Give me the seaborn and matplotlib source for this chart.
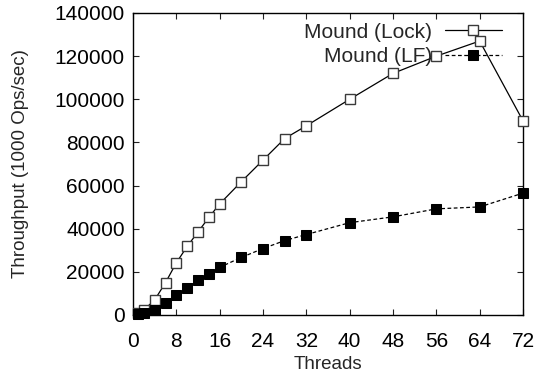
import matplotlib
matplotlib.use("Agg")
import matplotlib.pyplot as plt
import seaborn as sns
import pandas as pd

threads = [1, 2, 4, 6, 8, 10, 12, 14, 16, 20, 24, 28, 32, 40, 48, 56, 64, 72]
lock = [1000, 2300, 7000, 15000, 24200, 31800, 38500, 45200, 51500, 61800,
        71800, 81800, 87700, 100000, 112000, 120000, 127000, 90000]
lf = [500, 1100, 2300, 5400, 9200, 12700, 16000, 19200, 22100, 26700,
      30800, 34500, 37300, 42800, 45500, 49200, 50100, 56500]
xticks = [0, 8, 16, 24, 32, 40, 48, 56, 64, 72]
yticks = [0, 20000, 40000, 60000, 80000, 100000, 120000, 140000]

sns.set_theme(style="ticks")
plt.rcParams['font.family'] = ['Liberation Sans', 'DejaVu Sans']
plt.rcParams['font.size'] = 14

fig = plt.figure(figsize=(5.37, 3.79), dpi=100)
ax = fig.add_axes([133/537, 1-315/379, (523-133)/537, (315-13)/379])

df = pd.DataFrame({"Threads": threads, "Lock": lock, "LF": lf})

sns.lineplot(data=df, x="Threads", y="Lock", ax=ax, color="black", linewidth=0.9,
             marker="s", markersize=7.4, markerfacecolor="white",
             markeredgecolor="#3a3a3a", markeredgewidth=1.0,
             label="Mound (Lock)", clip_on=False, zorder=3)
sns.lineplot(data=df, x="Threads", y="LF", ax=ax, color="black", linewidth=0.9,
             linestyle=(0, (3, 2)), marker="s", markersize=7.4,
             markerfacecolor="black", markeredgecolor="black",
             label="Mound (LF)", clip_on=False, zorder=4)

ax.set_xlim(0, 72)
ax.set_ylim(0, 140000)
ax.set_xticks(xticks)
ax.set_yticks(yticks)
ax.set_xticklabels([str(t) for t in xticks], fontsize=15)
ax.set_yticklabels([str(t) for t in yticks], fontsize=15)
ax.tick_params(direction="in", top=True, right=True, length=4, width=0.8,
               color="#222222", labelcolor="black")
ax.tick_params(axis="x", pad=12)
ax.tick_params(axis="y", pad=6)
for s in ax.spines.values():
    s.set_linewidth(1.0)
    s.set_color("black")
ax.set_xlabel("Threads", fontsize=13.5, labelpad=4)
ax.set_ylabel("Throughput (1000 Ops/sec)", fontsize=13.5, labelpad=18)

leg = ax.legend(loc="upper right", bbox_to_anchor=(0.946, 0.968),
                markerfirst=False, frameon=False, borderpad=0,
                handlelength=2.75, handletextpad=0.6, labelspacing=0.28,
                borderaxespad=0, numpoints=1, fontsize=15)

fig.savefig("out.png", dpi=100)
